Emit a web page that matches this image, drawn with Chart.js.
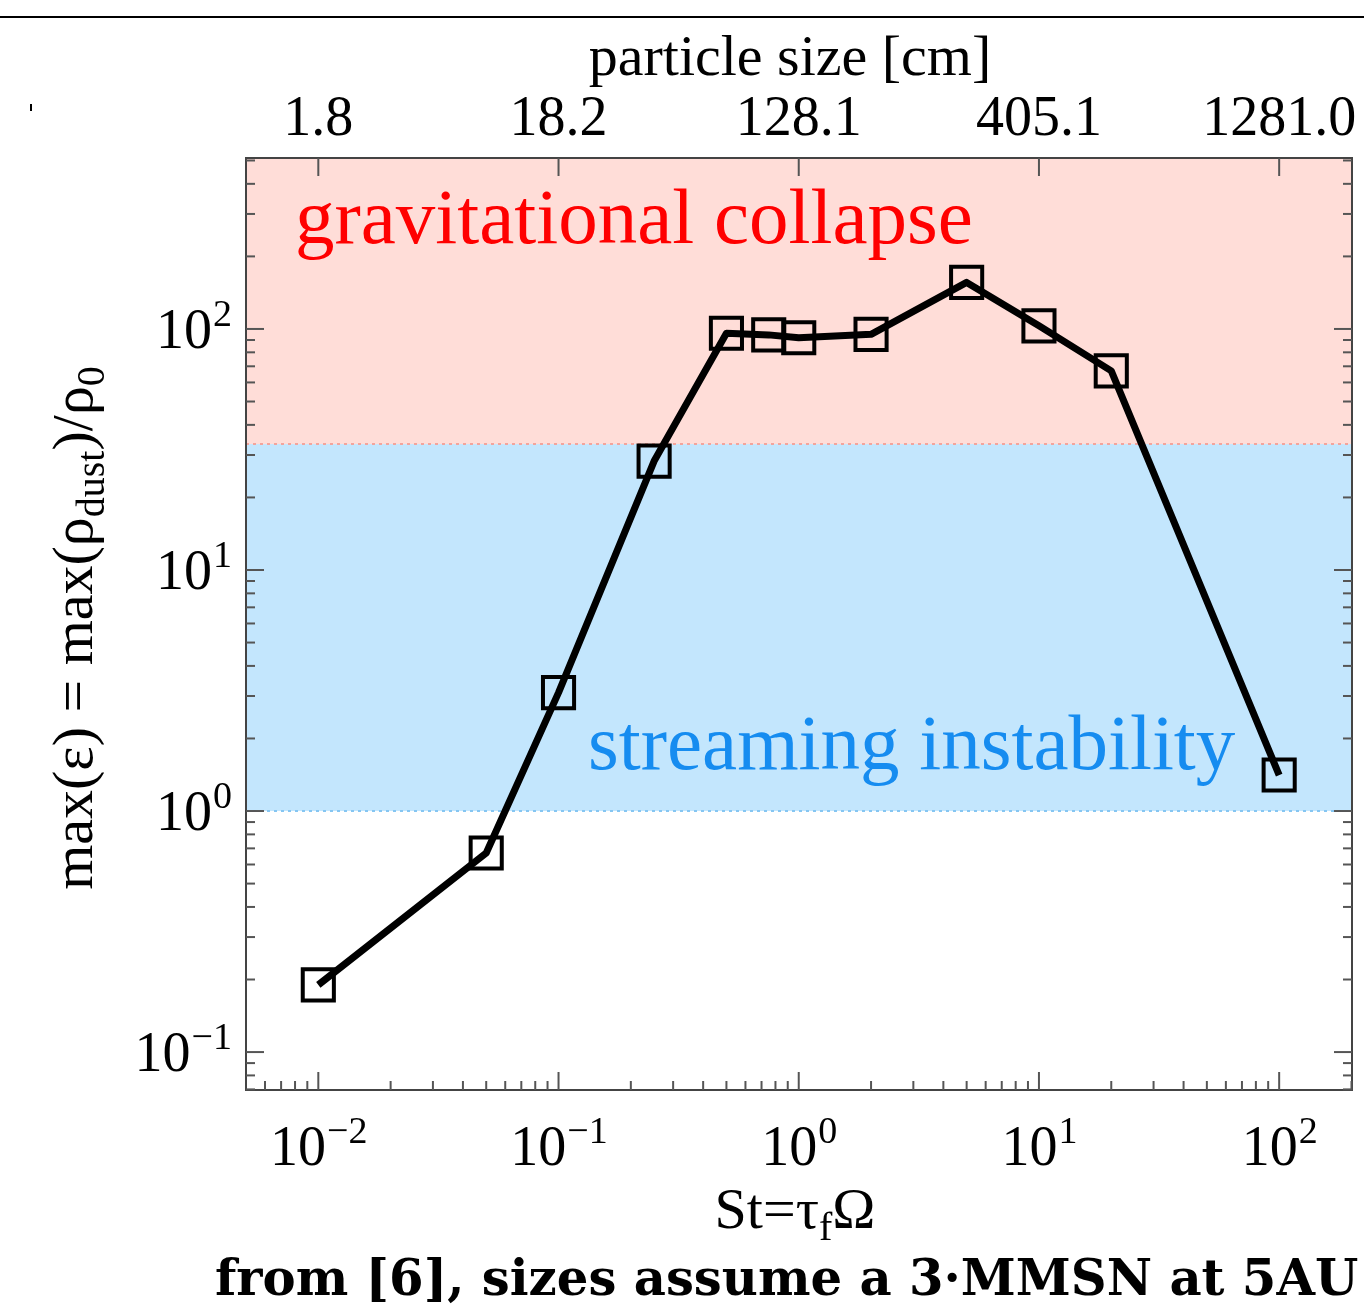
<!DOCTYPE html>
<html>
<head>
<meta charset="utf-8">
<script src="https://cdn.jsdelivr.net/npm/chart.js@4.4.1/dist/chart.umd.min.js"></script>
<style>
  html, body { margin: 0; padding: 0; background: #fff; }
  #wrap { width: 1364px; height: 1305px; position: relative; }
</style>
</head>
<body>
<div id="wrap"><canvas id="chart"></canvas></div>
<script>
// data (Stokes number vs peak dust density)
const stokes = [0.01, 0.05, 0.1, 0.25, 0.5, 0.75, 1, 2, 5, 10, 20, 100];
const maxEps = [0.19, 0.67, 3.1, 28.3, 96, 94.5, 92, 95, 156, 103, 67, 1.41];

// axis ticks and labels
const xTicks = [0.01, 0.1, 1, 10, 100];
const xTickExp = ["\u22122", "\u22121", "0", "1", "2"];
const yTicks = [0.1, 1, 10, 100];
const yTickExp = ["\u22121", "0", "1", "2"];
const sizeLabels = ["1.8", "18.2", "128.1", "405.1", "1281.0"];

// shaded regimes (y range)
const gravityBand = [33.3, 520];
const streamingBand = [1, 33.3];

const colors = {
  gravityFill: "#ffddd8",
  streamingFill: "#c3e6fd",
  gravityText: "#ff0000",
  streamingText: "#168cf0",
  gravityDot: "#f2a49c",
  streamingDot: "#86c6f2",
  frame: "#444",
  tick: "#555",
};

const serif = "'Liberation Serif', 'Times New Roman', serif";

function minorTicks(min, max) {
  const out = [];
  for (let e = -4; e <= 3; e++) {
    for (let m = 2; m <= 9; m++) {
      const v = m * Math.pow(10, e);
      if (v > min && v < max) out.push(v);
    }
  }
  return out;
}

// "10" with a superscript exponent; align = 'center' | 'right'
function drawPow(ctx, exp, x, y, align) {
  ctx.font = "56px " + serif;
  const wb = ctx.measureText("10").width;
  ctx.font = "38px " + serif;
  const we = ctx.measureText(exp).width;
  let left = align === "right" ? x - wb - we : x - (wb + we) / 2;
  ctx.textAlign = "left";
  ctx.font = "56px " + serif;
  ctx.fillText("10", left, y);
  ctx.font = "38px " + serif;
  ctx.fillText(exp, left + wb + 1, y - 22);
}

const figurePlugin = {
  id: "figure",
  beforeDatasetsDraw(chart) {
    const { ctx, chartArea: a, scales } = chart;
    const y = scales.y;
    ctx.save();
    const gTop = Math.max(a.top, y.getPixelForValue(gravityBand[1]));
    const gBot = y.getPixelForValue(gravityBand[0]);
    const sBot = y.getPixelForValue(streamingBand[0]);
    ctx.fillStyle = colors.gravityFill;
    ctx.fillRect(a.left, gTop, a.width, gBot - gTop);
    ctx.fillStyle = colors.streamingFill;
    ctx.fillRect(a.left, gBot, a.width, sBot - gBot);

    ctx.lineWidth = 2;
    ctx.setLineDash([3, 4]);
    ctx.strokeStyle = colors.gravityDot;
    ctx.beginPath(); ctx.moveTo(a.left, gBot); ctx.lineTo(a.right, gBot); ctx.stroke();
    ctx.strokeStyle = colors.streamingDot;
    ctx.beginPath(); ctx.moveTo(a.left, sBot); ctx.lineTo(a.right, sBot); ctx.stroke();
    ctx.setLineDash([]);

    // regime labels
    ctx.textAlign = "left";
    ctx.textBaseline = "alphabetic";
    ctx.font = "79px " + serif;
    ctx.fillStyle = colors.gravityText;
    ctx.fillText("gravitational collapse", 295, 243);
    ctx.fillStyle = colors.streamingText;
    ctx.fillText("streaming instability", 588, 769);
    ctx.restore();
  },
  afterDatasetsDraw(chart) {
    const { ctx, chartArea: a, scales } = chart;
    const x = scales.x, y = scales.y;
    ctx.save();

    // frame
    ctx.strokeStyle = colors.frame;
    ctx.lineWidth = 2;
    ctx.strokeRect(a.left, a.top, a.width, a.height);

    // inward ticks
    ctx.strokeStyle = colors.tick;
    ctx.lineWidth = 2;
    const line = (x1, y1, x2, y2) => {
      ctx.beginPath(); ctx.moveTo(x1, y1); ctx.lineTo(x2, y2); ctx.stroke();
    };
    xTicks.forEach((v) => {
      const px = x.getPixelForValue(v);
      line(px, a.bottom, px, a.bottom - 18);
      line(px, a.top, px, a.top + 18);
    });
    minorTicks(x.min, x.max).forEach((v) => {
      const px = x.getPixelForValue(v);
      line(px, a.bottom, px, a.bottom - 9);
    });
    yTicks.forEach((v) => {
      const py = y.getPixelForValue(v);
      line(a.left, py, a.left + 18, py);
      line(a.right, py, a.right - 18, py);
    });
    minorTicks(y.min, y.max).forEach((v) => {
      const py = y.getPixelForValue(v);
      line(a.left, py, a.left + 9, py);
      line(a.right, py, a.right - 9, py);
    });

    // tick labels
    ctx.fillStyle = "#000";
    ctx.textBaseline = "alphabetic";
    xTicks.forEach((v, i) => drawPow(ctx, xTickExp[i], x.getPixelForValue(v), 1165, "center"));
    yTicks.forEach((v, i) => drawPow(ctx, yTickExp[i], 231, y.getPixelForValue(v) + 19, "right"));
    ctx.font = "56px " + serif;
    ctx.textAlign = "center";
    xTicks.forEach((v, i) => ctx.fillText(sizeLabels[i], x.getPixelForValue(v), 135));

    // axis titles
    ctx.font = "58px " + serif;
    ctx.fillText("particle size [cm]", 790, 75);

    // bottom: St = tau_f Omega
    const big = "58px " + serif, small = "40px " + serif;
    const xParts = [["St=\u03c4", big, 0], ["f", small, 12], ["\u03a9", big, 0]];
    drawParts(ctx, xParts, 795, 1228);

    // left, rotated
    ctx.save();
    ctx.translate(92, 628);
    ctx.rotate(-Math.PI / 2);
    const yParts = [
      ["max(\u03b5) = max(\u03c1", big, 0],
      ["dust", small, 12],
      [")/\u03c1", big, 0],
      ["0", small, 12],
    ];
    drawParts(ctx, yParts, 0, 0);
    ctx.restore();

    // caption
    ctx.fillStyle = "#000";
    ctx.textAlign = "left";
    const caption = "from [6], sizes assume a 3\u00b7MMSN at 5AU";
    ctx.font = "bold 50px 'DejaVu Serif', serif";
    const w = ctx.measureText(caption).width;
    const fs = 50 * 1143 / w;
    ctx.font = "bold " + fs.toFixed(1) + "px 'DejaVu Serif', serif";
    ctx.fillText(caption, 215, 1295);

    // page rule and stray mark from the source slide
    ctx.fillStyle = "#000";
    ctx.fillRect(0, 16, 1364, 2);
    ctx.fillRect(30, 104, 2, 7);
    ctx.restore();
  },
};

// draws mixed-size text runs centred on cx; each part = [text, font, baseline shift]
function drawParts(ctx, parts, cx, by) {
  let total = 0;
  parts.forEach((p) => { ctx.font = p[1]; total += ctx.measureText(p[0]).width; });
  let cur = cx - total / 2;
  ctx.textAlign = "left";
  parts.forEach((p) => {
    ctx.font = p[1];
    ctx.fillText(p[0], cur, by + p[2]);
    cur += ctx.measureText(p[0]).width;
  });
}

function buildChart() {
  const ctx = document.getElementById("chart").getContext("2d");
  new Chart(ctx, {
    type: "scatter",
    data: {
      datasets: [
        {
          data: stokes.map((s, i) => ({ x: s, y: maxEps[i] })),
          showLine: true,
          borderColor: "#000",
          borderWidth: 7,
          borderJoinStyle: "round",
          tension: 0,
          pointStyle: "rect",
          pointRadius: 22,
          pointHoverRadius: 22,
          pointBorderWidth: 4,
          pointBorderColor: "#000",
          pointBackgroundColor: "rgba(0,0,0,0)",
          clip: false,
        },
      ],
    },
    options: {
      responsive: true,
      maintainAspectRatio: false,
      animation: false,
      layout: { autoPadding: false, padding: { left: 246, top: 158, right: 12, bottom: 215 } },
      plugins: { legend: { display: false }, tooltip: { enabled: false } },
      scales: {
        x: { type: "logarithmic", min: 0.005, max: 201, display: false },
        y: { type: "logarithmic", min: 0.0696, max: 512, display: false },
      },
    },
    plugins: [figurePlugin],
  });
}

Promise.all([
  document.fonts.load("56px 'Liberation Serif'"),
  document.fonts.load("bold 50px 'DejaVu Serif'"),
]).catch(() => {}).then(buildChart);
</script>
</body>
</html>
